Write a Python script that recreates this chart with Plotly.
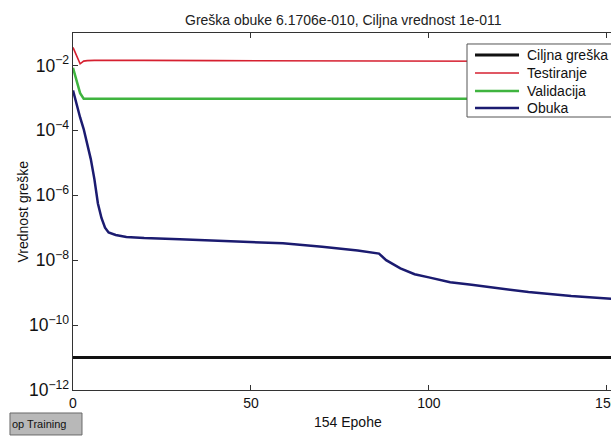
import plotly.graph_objects as go

# epoch / error values
train_epochs = [0, 1, 2, 3, 4, 5, 6, 7, 8, 9, 10, 12, 15, 20, 30, 40, 50, 59,
                70, 80, 86, 88, 92, 96, 100, 106, 112, 120, 128, 140, 154]
train_err = [1.7e-3, 6.3e-4, 2.5e-4, 1.1e-4, 3.5e-5, 1.3e-5, 3.2e-6, 5.6e-7,
             2.0e-7, 1.0e-7, 7.1e-8, 6.0e-8, 5.2e-8, 4.8e-8, 4.4e-8, 4.0e-8,
             3.6e-8, 3.3e-8, 2.6e-8, 2.0e-8, 1.6e-8, 1.0e-8, 5.6e-9, 3.7e-9,
             2.95e-9, 2.1e-9, 1.74e-9, 1.32e-9, 1.05e-9, 7.9e-10, 6.17e-10]

val_epochs = [0, 1, 2, 3, 154]
val_err = [8.5e-3, 3.2e-3, 1.4e-3, 9.5e-4, 9.5e-4]

test_epochs = [0, 1, 2, 3, 4, 6, 10, 20, 40, 80, 120, 154]
test_err = [0.036, 0.021, 0.0112, 0.0136, 0.0141, 0.0143, 0.0145, 0.0143,
            0.0141, 0.0138, 0.0135, 0.0132]

goal_epochs = [0, 154]
goal_err = [1e-11, 1e-11]

x_ticks = [0, 50, 100, 150]

font = "Liberation Sans, Arial, sans-serif"

series = [
    ("Ciljna greška", goal_epochs, goal_err, "#111111", 3),
    ("Testiranje", test_epochs, test_err, "#d62030", 1.6),
    ("Validacija", val_epochs, val_err, "#3fb43f", 2.5),
    ("Obuka", train_epochs, train_err, "#1b1b70", 2.5),
]

fig = go.Figure()
for name, xs, ys, color, width in series:
    fig.add_trace(go.Scatter(x=xs, y=ys, mode="lines", name=name,
                             line=dict(color=color, width=width), showlegend=False))

# MATLAB-style legend box, drawn by hand so rows sit 18px apart
shapes = [
    dict(type="rect", xref="paper", yref="paper", x0=0.719, x1=1.02,
         y0=0.7647, y1=0.9692, fillcolor="white",
         line=dict(color="#555555", width=1)),
    # stop training button under the axes
    dict(type="rect", xref="paper", yref="paper", x0=-0.115, x1=0.0164,
         y0=-0.126, y1=-0.0644, fillcolor="#b8b8b8",
         line=dict(color="#6a6a6a", width=1)),
]
annotations = []
row_y = [0.9384, 0.888, 0.8375, 0.7899]
for (name, xs, ys, color, width), yy in zip(series, row_y):
    shapes.append(dict(type="line", xref="paper", yref="paper", x0=0.7336, x1=0.8139,
                       y0=yy, y1=yy, line=dict(color=color, width=width)))
    annotations.append(dict(text=name, xref="paper", yref="paper", x=0.8248, y=yy,
                            showarrow=False, xanchor="left", yanchor="middle",
                            font=dict(size=14)))

annotations += [
    dict(text="Greška obuke 6.1706e-010, Ciljna vrednost 1e-011",
         xref="paper", yref="paper", x=0.4945, y=1.0, yshift=13,
         showarrow=False, font=dict(size=14, color="#222222"),
         xanchor="center", yanchor="middle"),
    dict(text="154 Epohe", xref="paper", yref="paper", x=0.5018, y=0, yshift=-32,
         showarrow=False, font=dict(size=14), xanchor="center", yanchor="middle"),
    dict(text="Vrednost greške", xref="paper", yref="paper", x=0, xshift=-51,
         y=0.5, textangle=-90, showarrow=False, font=dict(size=14),
         xanchor="center", yanchor="middle"),
    dict(text="op Training", xref="paper", yref="paper", x=-0.115, y=-0.095,
         showarrow=False, font=dict(size=11), xanchor="left", yanchor="middle"),
]

# the figure is a little wider than the window: the right edge of the
# axes (and the "150" label) is cut off, as in the original screenshot
fig.update_layout(
    width=621, height=438,
    margin=dict(l=73, r=0, t=33, b=48),
    paper_bgcolor="white", plot_bgcolor="white",
    font=dict(family=font, size=14, color="#111111"),
    showlegend=False,
    shapes=shapes,
    annotations=annotations,
)

fig.update_xaxes(range=[0, 154], tickvals=x_ticks, ticks="inside", ticklen=5,
                 tickcolor="#333333", showline=True, linecolor="#333333", linewidth=1,
                 mirror="ticks", showgrid=False, zeroline=False,
                 ticklabeloverflow="allow", tickfont=dict(size=14))
fig.update_yaxes(type="log", range=[-12, -1], dtick=2, tick0=0,
                 exponentformat="power", ticks="inside", ticklen=5,
                 tickcolor="#333333", showline=True, linecolor="#333333", linewidth=1,
                 mirror="ticks", showgrid=False, zeroline=False,
                 tickfont=dict(size=14))

# drop the page's default body margin and any scrollbars
fig.write_html("out.html", config={"displayModeBar": False},
               post_script="document.body.style.margin='0';"
                           "document.body.style.overflow='hidden';")
